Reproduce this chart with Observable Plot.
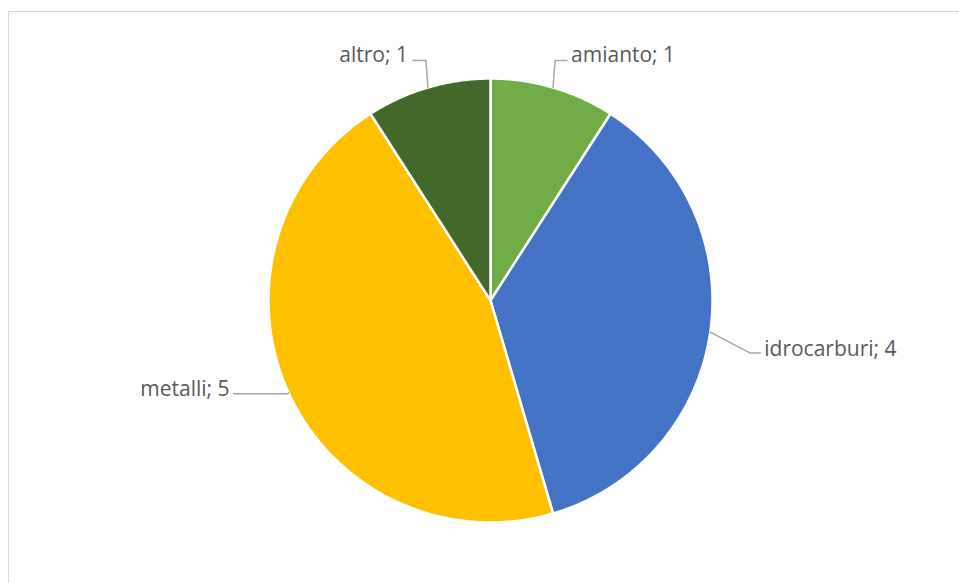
<!DOCTYPE html>
<html><head><meta charset="utf-8">
<script src="https://cdn.jsdelivr.net/npm/d3@7"></script>
<script src="https://cdn.jsdelivr.net/npm/@observablehq/plot@0.6"></script>
<style>
html,body{margin:0;padding:0;background:#fff;overflow:hidden;}
#frame{position:absolute;left:8px;top:11px;width:1000px;height:700px;border:1.5px solid #d9d9d9;}
#chart{position:absolute;left:0;top:0;}
</style></head><body>
<div id="frame"></div><div id="chart"></div>
<script>
const categories = ["amianto", "idrocarburi", "metalli", "altro"];
const values = [1, 4, 5, 1];
const colors = ["#70AD47", "#4472C4", "#FFC000", "#43682B"];

// layout (pixels)
const W = 959, H = 583, CX = 490, CY = 300, R = 222;
// leader offsets relative to slice mid-point on the rim: [elbow, end, text], pixels
const labelLayout = {
  amianto:     {pts: [[2, -27], [14, -27]], text: [18, -32], anchor: "start"},
  idrocarburi: {pts: [[40, 21], [50, 21]], text: [54, 17], anchor: "start"},
  metalli:     {pts: [[-1, 1], [-55, 1]], text: [-59, -3], anchor: "end"},
  altro:       {pts: [[-2, -27], [-15, -27]], text: [-20, -32], anchor: "end"}
};

const total = d3.sum(values);
const slices = [];
const leaders = [];
const labels = [];
let acc = 0;
categories.forEach((c, i) => {
  const a0 = acc / total * 2 * Math.PI;
  acc += values[i];
  const a1 = acc / total * 2 * Math.PI;
  const n = Math.max(2, Math.ceil((a1 - a0) / (Math.PI / 360)));
  slices.push({cat: c, x: 0, y: 0});
  for (let k = 0; k <= n; k++) {
    const a = a0 + (a1 - a0) * k / n;
    slices.push({cat: c, x: Math.sin(a), y: Math.cos(a)});
  }
  slices.push({cat: c, x: 0, y: 0});
  const am = (a0 + a1) / 2;
  const mx = Math.sin(am), my = Math.cos(am);
  const L = labelLayout[c];
  leaders.push({cat: c, x: mx, y: my});
  L.pts.forEach(([dx, dy]) => leaders.push({cat: c, x: mx + dx / R, y: my - dy / R}));
  labels.push({cat: c, text: `${c}; ${values[i]}`, x: mx + L.text[0] / R, y: my - L.text[1] / R, anchor: L.anchor});
});

const chart = Plot.plot({
  width: W, height: H,
  margin: 0,
  x: {domain: [-1, 1], range: [CX - R, CX + R], axis: null},
  y: {domain: [-1, 1], range: [CY + R, CY - R], axis: null},
  color: {domain: categories, range: colors},
  style: {fontFamily: "'Open Sans', sans-serif", background: "transparent"},
  marks: [
    Plot.line(slices, {x: "x", y: "y", z: "cat", fill: "cat", stroke: "#ffffff", strokeWidth: 2.5, strokeLinejoin: "round"}),
    Plot.line(leaders, {x: "x", y: "y", z: "cat", stroke: "#a6a6a6", strokeWidth: 1.5}),
    Plot.text(labels.filter(d => d.anchor === "start"), {x: "x", y: "y", text: "text", textAnchor: "start", fill: "#595959", fontSize: 21}),
    Plot.text(labels.filter(d => d.anchor === "end"), {x: "x", y: "y", text: "text", textAnchor: "end", fill: "#595959", fontSize: 21})
  ]
});
document.getElementById("chart").appendChild(chart);
</script>
</body></html>
